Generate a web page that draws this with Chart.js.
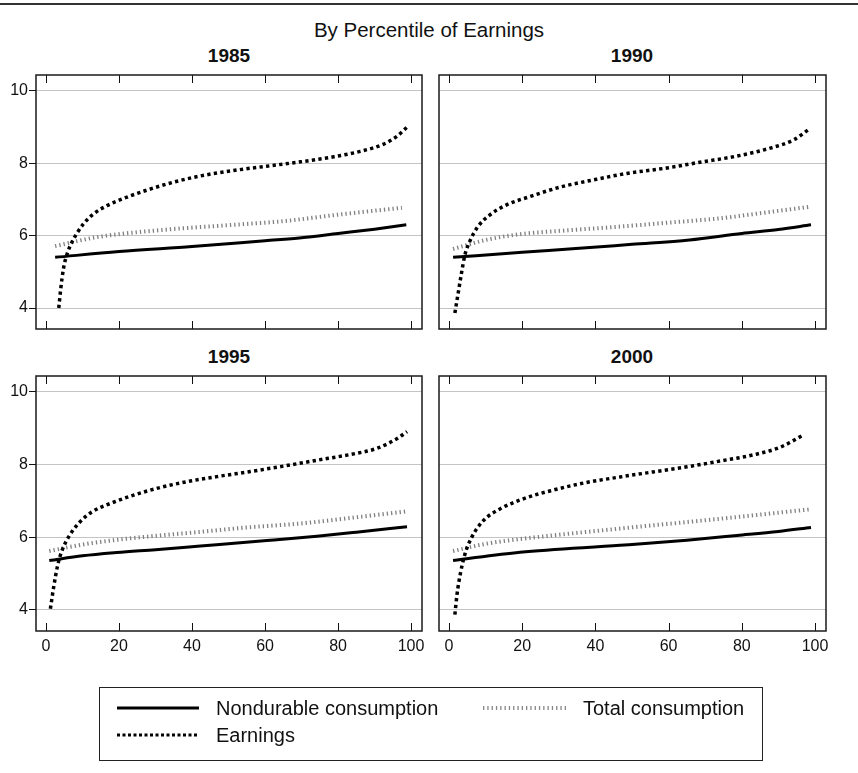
<!DOCTYPE html>
<html><head><meta charset="utf-8">
<script src="https://cdn.jsdelivr.net/npm/chart.js@4.4.1/dist/chart.umd.min.js"></script>
<style>
html,body{margin:0;padding:0;background:#fff;}
#wrap{position:relative;width:858px;height:773px;overflow:hidden;font-family:"Liberation Sans",Arial,sans-serif;color:#111;}
.abs{position:absolute;}
.ptitle{position:absolute;font-weight:bold;font-size:19px;text-align:center;width:200px;line-height:20px;}
canvas{position:absolute;}
</style></head><body>
<div id="wrap">
  <div class="abs" style="left:0;top:3px;width:858px;height:2px;background:#333"></div>
  <div class="abs" style="left:0;top:19px;width:858px;text-align:center;font-size:20.5px;line-height:22px;">By Percentile of Earnings</div>
  <div class="ptitle" style="left:129px;top:46px;">1985</div>
  <div class="ptitle" style="left:532px;top:46px;">1990</div>
  <div class="ptitle" style="left:129px;top:347px;">1995</div>
  <div class="ptitle" style="left:532px;top:347px;">2000</div>
  <canvas id="c1985" width="432" height="268" style="left:0;top:68px;width:432px;height:268px"></canvas>
  <canvas id="c1990" width="428" height="268" style="left:430px;top:68px;width:428px;height:268px"></canvas>
  <canvas id="c1995" width="432" height="300" style="left:0;top:369px;width:432px;height:300px"></canvas>
  <canvas id="c2000" width="428" height="300" style="left:430px;top:369px;width:428px;height:300px"></canvas>
  <svg class="abs" style="left:0;top:0" width="858" height="773" id="legend">
    <rect x="99.5" y="687.5" width="663" height="73" fill="none" stroke="#222" stroke-width="1"/>
    <line x1="117" y1="708" x2="199" y2="708" stroke="#000" stroke-width="3"/>
    <text x="216" y="715" font-family="Liberation Sans, Arial, sans-serif" font-size="20" fill="#111">Nondurable consumption</text>
    <line x1="483" y1="708" x2="566" y2="708" stroke="#888" stroke-width="4" stroke-dasharray="1.3 3"/>
    <text x="583" y="715" font-family="Liberation Sans, Arial, sans-serif" font-size="20" fill="#111">Total consumption</text>
    <line x1="117" y1="735" x2="199" y2="735" stroke="#000" stroke-width="3" stroke-dasharray="3 2.5"/>
    <text x="216" y="742" font-family="Liberation Sans, Arial, sans-serif" font-size="20" fill="#111">Earnings</text>
  </svg>
</div>
<script>
// ---- tick labels ----
const percentileTicks = [0, 20, 40, 60, 80, 100];
const valueTicks = [4, 6, 8, 10];

// ---- 1985 ----
const earnPct1985 = [3.5, 4.0, 4.8, 5.8, 7, 8.5, 10.3, 13, 16.7, 21.3, 27.7, 35, 42.3, 51.4, 60.5, 69.7, 78.8, 86.1, 92.5, 96.2, 98.9];
const earnVal1985 = [4.0, 4.5, 5.1, 5.5, 5.8, 6.07, 6.33, 6.6, 6.83, 7.03, 7.26, 7.48, 7.65, 7.8, 7.92, 8.04, 8.18, 8.33, 8.53, 8.75, 9.0];
const ndPct1985 = [2.5, 20, 40, 60, 70, 80, 90, 98.7];
const ndVal1985 = [5.40, 5.56, 5.70, 5.86, 5.94, 6.06, 6.18, 6.30];
const totPct1985 = [2.5, 14, 31, 50, 65, 80, 97.5];
const totVal1985 = [5.71, 5.96, 6.15, 6.29, 6.40, 6.58, 6.77];

// ---- 1990 ----
const earnPct1990 = [1.6, 2.5, 3.4, 4.3, 5.7, 7.9, 11.1, 15.7, 22.1, 30.3, 39.4, 48.6, 59.5, 68.6, 78.7, 87.8, 94.2, 98.7];
const earnVal1990 = [3.86, 4.41, 4.96, 5.45, 5.85, 6.25, 6.57, 6.85, 7.08, 7.34, 7.54, 7.72, 7.87, 8.03, 8.2, 8.42, 8.65, 8.97];
const ndPct1990 = [1.1, 20, 35.6, 50, 65.7, 80, 90, 98.9];
const ndVal1990 = [5.40, 5.54, 5.65, 5.76, 5.88, 6.06, 6.17, 6.30];
const totPct1990 = [1.1, 10, 19.3, 30, 46.7, 60, 74.1, 85, 98.7];
const totVal1990 = [5.63, 5.88, 6.04, 6.13, 6.25, 6.36, 6.48, 6.62, 6.80];

// ---- 1995 ----
const earnPct1995 = [1.2, 2.1, 3.2, 4.4, 6.2, 8.9, 12.6, 17.6, 24, 31.3, 38.6, 46.8, 56, 65.1, 74.2, 83.4, 90.7, 96.2, 98.9];
const earnVal1995 = [4.03, 4.63, 5.23, 5.64, 6.01, 6.38, 6.7, 6.93, 7.16, 7.37, 7.53, 7.67, 7.81, 7.96, 8.12, 8.28, 8.45, 8.72, 8.91];
const ndPct1995 = [0.9, 10, 19.4, 30, 42.3, 60.5, 74.2, 85, 98.9];
const ndVal1995 = [5.36, 5.49, 5.58, 5.66, 5.76, 5.91, 6.03, 6.14, 6.29];
const totPct1995 = [0.9, 10, 19.4, 30, 42.3, 55, 69.7, 85, 98.5];
const totVal1995 = [5.62, 5.80, 5.93, 6.04, 6.15, 6.27, 6.38, 6.55, 6.71];

// ---- 2000 ----
const earnPct2000 = [1.6, 2.2, 3.1, 4.3, 6.1, 9.3, 13.9, 20.3, 28.5, 37.6, 46.7, 55.8, 65, 74.1, 83.2, 90.5, 96.9];
const earnVal2000 = [3.87, 4.44, 5.0, 5.52, 5.98, 6.45, 6.78, 7.06, 7.30, 7.51, 7.66, 7.8, 7.94, 8.1, 8.27, 8.48, 8.82];
const ndPct2000 = [1.1, 19.4, 46.7, 65, 78.7, 90, 98.9];
const ndVal2000 = [5.36, 5.59, 5.78, 5.92, 6.05, 6.16, 6.27];
const totPct2000 = [1.1, 10, 19.4, 46.7, 74.1, 98.7];
const totVal2000 = [5.62, 5.82, 5.95, 6.24, 6.51, 6.77];

const FONT = '"Liberation Sans", Arial, sans-serif';
const zip = (xs, ys) => xs.map((x, i) => ({x: x, y: ys[i]}));

const boxPlugin = {
  id: 'box',
  afterDraw(chart) {
    const {ctx, chartArea: a, scales} = chart;
    ctx.save();
    ctx.strokeStyle = '#111';
    ctx.lineWidth = 1;
    const xs = scales.x;
    percentileTicks.forEach(v => {
      const px = Math.round(xs.getPixelForValue(v)) + 0.5;
      ctx.beginPath();
      ctx.moveTo(px, a.top); ctx.lineTo(px, a.top + 8);
      ctx.moveTo(px, a.bottom); ctx.lineTo(px, a.bottom - 8);
      ctx.stroke();
    });
    ctx.lineWidth = 1.5;
    ctx.strokeStyle = '#1a1a1a';
    ctx.strokeRect(Math.round(a.left), Math.round(a.top), Math.round(a.right - a.left), Math.round(a.bottom - a.top));
    ctx.restore();
  }
};

function makeChart(id, eX, eY, nX, nY, tX, tY, o) {
  new Chart(document.getElementById(id), {
    type: 'line',
    data: {
      datasets: [
        {label: 'Earnings', data: zip(eX, eY), borderColor: '#000', borderWidth: 3.5, borderDash: [3.3, 3.3], pointRadius: 0, cubicInterpolationMode: 'monotone', fill: false},
        {label: 'Nondurable consumption', data: zip(nX, nY), borderColor: '#000', borderWidth: 3, pointRadius: 0, cubicInterpolationMode: 'monotone', fill: false},
        {label: 'Total consumption', data: zip(tX, tY), borderColor: '#808080', borderWidth: 4, borderDash: [1.3, 3], pointRadius: 0, cubicInterpolationMode: 'monotone', fill: false}
      ]
    },
    options: {
      responsive: false, animation: false, devicePixelRatio: 1,
      layout: {padding: {left: 0, right: o.padR, top: 7, bottom: o.padB}},
      plugins: {legend: {display: false}, tooltip: {enabled: false}, title: {display: false}},
      scales: {
        x: {
          type: 'linear', min: -2.74, max: 103, display: o.showX,
          afterBuildTicks: s => { s.ticks = percentileTicks.map(v => ({value: v})); },
          afterFit: s => { s.height = o.showX ? 38 : 0; s.paddingLeft = 0; s.paddingRight = 0; },
          grid: {display: false, drawTicks: false},
          border: {display: false},
          ticks: {font: {family: FONT, size: 16}, color: '#111', padding: 6, maxRotation: 0, autoSkip: false}
        },
        y: {
          type: 'linear', min: 3.42, max: 10.44,
          afterBuildTicks: s => { s.ticks = valueTicks.map(v => ({value: v})); },
          afterFit: s => { s.width = o.yw; s.paddingTop = 0; s.paddingBottom = 0; },
          grid: {color: '#c4c4c4', lineWidth: 1, drawTicks: o.showY, tickLength: 7, tickColor: '#111'},
          border: {display: false},
          ticks: {display: o.showY, font: {family: FONT, size: 16}, color: '#111', padding: 1}
        }
      }
    },
    plugins: [boxPlugin]
  });
}

makeChart('c1985', earnPct1985, earnVal1985, ndPct1985, ndVal1985, totPct1985, totVal1985, {showX: false, showY: true, yw: 36, padR: 10, padB: 7});
makeChart('c1990', earnPct1990, earnVal1990, ndPct1990, ndVal1990, totPct1990, totVal1990, {showX: false, showY: false, yw: 9, padR: 32, padB: 7});
makeChart('c1995', earnPct1995, earnVal1995, ndPct1995, ndVal1995, totPct1995, totVal1995, {showX: true, showY: true, yw: 36, padR: 10, padB: 0});
makeChart('c2000', earnPct2000, earnVal2000, ndPct2000, ndVal2000, totPct2000, totVal2000, {showX: true, showY: false, yw: 9, padR: 32, padB: 0});
</script>
</body></html>
